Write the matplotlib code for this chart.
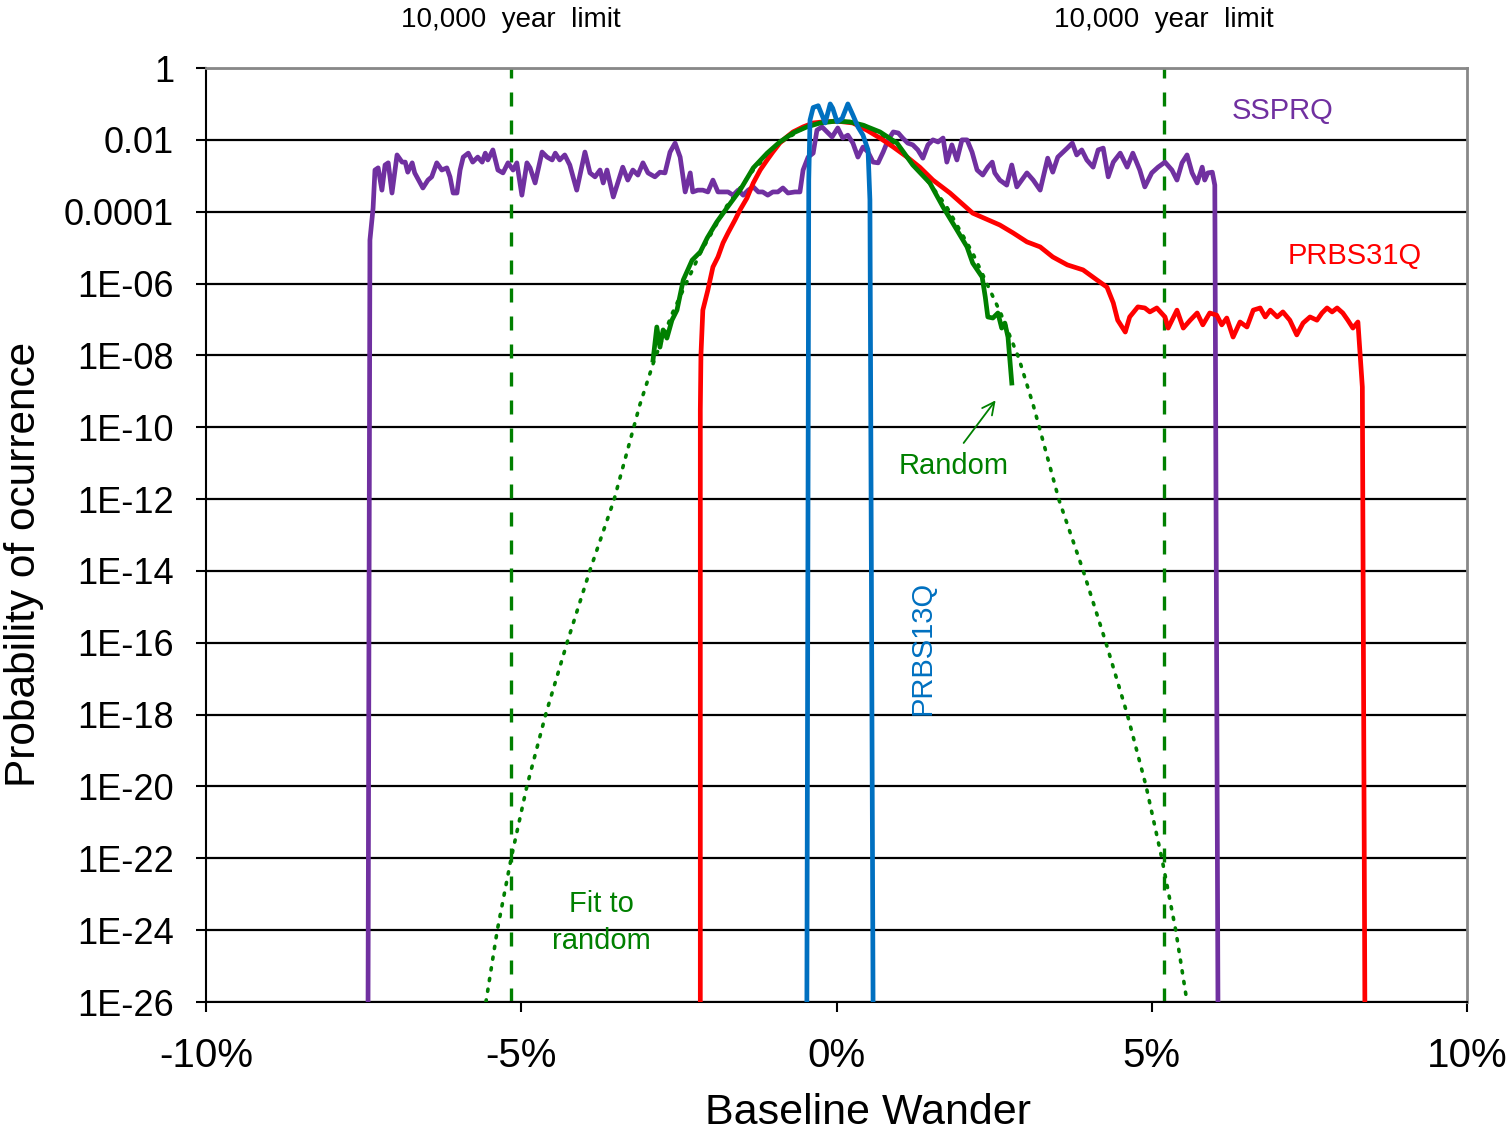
import numpy as np
import matplotlib
matplotlib.use("Agg")
import matplotlib.pyplot as plt
import matplotlib.transforms as mtransforms

plt.rcParams['font.family'] = ['Liberation Sans', 'DejaVu Sans']

# ── Data (x = baseline wander in %, y = log10 of probability) ────────────────
ssprq_x = [-7.43, -7.40, -7.35, -7.32, -7.27, -7.21, -7.16, -7.11, -7.05, -6.97,
           -6.89, -6.84, -6.80, -6.73, -6.69, -6.56, -6.48, -6.42, -6.34, -6.26,
           -6.18, -6.13, -6.08, -6.02, -5.97, -5.92, -5.84, -5.77, -5.69, -5.62,
           -5.57, -5.53, -5.45, -5.37, -5.29, -5.21, -5.13, -5.07, -4.99, -4.91,
           -4.86, -4.78, -4.67, -4.59, -4.51, -4.46, -4.39, -4.31, -4.23, -4.12,
           -3.99, -3.91, -3.83, -3.75, -3.70, -3.64, -3.54, -3.47, -3.39, -3.31,
           -3.23, -3.15, -3.07, -2.99, -2.88, -2.80, -2.72, -2.64, -2.56, -2.48,
           -2.40, -2.32, -2.28, -2.20, -2.12, -2.04, -1.96, -1.88, -1.80, -1.72,
           -1.64, -1.56, -1.48, -1.40, -1.32, -1.24, -1.17, -1.09, -1.01, -0.93,
           -0.85, -0.77, -0.66, -0.58, -0.53, -0.45, -0.37, -0.31, -0.23, -0.15,
           -0.07, 0.02, 0.10, 0.18, 0.26, 0.34, 0.42, 0.50, 0.58, 0.66,
           0.74, 0.82, 0.90, 0.98, 1.05, 1.13, 1.21, 1.29, 1.37, 1.45,
           1.53, 1.61, 1.69, 1.75, 1.83, 1.91, 1.99, 2.07, 2.15, 2.23,
           2.32, 2.40, 2.47, 2.51, 2.59, 2.70, 2.78, 2.86, 3.02, 3.12,
           3.23, 3.35, 3.43, 3.51, 3.66, 3.74, 3.81, 3.89, 3.97, 4.07,
           4.15, 4.23, 4.31, 4.39, 4.50, 4.61, 4.70, 4.81, 4.89, 5.00,
           5.10, 5.21, 5.32, 5.40, 5.48, 5.56, 5.64, 5.72, 5.80, 5.84,
           5.89, 5.96, 6.00, 6.05]
ssprq_y = [-26.0, -4.79, -3.90, -2.84, -2.78, -3.40, -2.70, -2.64, -3.48, -2.42,
           -2.62, -2.62, -2.90, -2.64, -2.92, -3.34, -3.12, -3.03, -2.64, -2.84,
           -2.78, -3.03, -3.48, -3.48, -2.84, -2.48, -2.37, -2.62, -2.48, -2.62,
           -2.37, -2.56, -2.28, -2.84, -2.92, -2.64, -2.84, -2.64, -3.54, -2.64,
           -2.78, -3.20, -2.34, -2.48, -2.56, -2.37, -2.56, -2.42, -2.70, -3.40,
           -2.34, -2.92, -3.03, -2.84, -3.20, -2.84, -3.59, -3.20, -2.76, -3.12,
           -2.84, -2.98, -2.64, -2.92, -3.03, -2.90, -2.92, -2.34, -2.09, -2.48,
           -3.45, -2.92, -3.45, -3.40, -3.40, -3.45, -3.12, -3.45, -3.45, -3.45,
           -3.54, -3.40, -3.54, -3.40, -3.31, -3.45, -3.45, -3.54, -3.45, -3.45,
           -3.34, -3.48, -3.45, -3.45, -2.84, -2.48, -2.37, -1.73, -1.64, -1.78,
           -1.92, -1.67, -1.95, -1.87, -2.09, -2.48, -2.20, -2.34, -2.62, -2.64,
           -2.34, -2.00, -1.78, -1.81, -1.95, -2.09, -2.14, -2.28, -2.51, -2.14,
           -2.00, -2.06, -1.95, -2.62, -2.14, -2.56, -2.00, -2.00, -2.34, -2.84,
           -2.98, -2.76, -2.62, -2.92, -3.12, -3.26, -2.70, -3.31, -2.92, -3.12,
           -3.40, -2.51, -2.90, -2.48, -2.23, -2.09, -2.42, -2.28, -2.56, -2.76,
           -2.28, -2.23, -3.03, -2.62, -2.37, -2.76, -2.37, -2.84, -3.31, -2.92,
           -2.76, -2.62, -2.84, -3.12, -2.64, -2.42, -2.92, -3.20, -2.76, -3.12,
           -2.92, -2.90, -3.26, -26.0]

prbs13q_x = [-0.47, -0.44, -0.42, -0.37, -0.29, -0.23, -0.18, -0.10, -0.06, 0.01,
             0.09, 0.18, 0.26, 0.34, 0.42, 0.50, 0.53, 0.58]
prbs13q_y = [-26.0, -3.12, -1.45, -1.10, -1.05, -1.31, -1.53, -1.00, -1.12, -1.50,
             -1.40, -1.00, -1.31, -1.64, -1.87, -2.28, -3.67, -26.0]

prbs31q_x = [-2.16, -2.16, -2.15, -2.12, -2.04, -1.96, -1.88, -1.80, -1.72, -1.61,
             -1.53, -1.42, -1.32, -1.21, -1.10, -1.01, -0.90, -0.79, -0.69, -0.53,
             -0.37, -0.21, 0.01, 0.26, 0.48, 0.69, 0.90, 1.12, 1.32, 1.53,
             1.80, 2.16, 2.59, 2.80, 3.02, 3.23, 3.43, 3.66, 3.91, 4.13,
             4.29, 4.39, 4.46, 4.58, 4.65, 4.78, 4.89, 4.97, 5.08, 5.21,
             5.26, 5.40, 5.50, 5.61, 5.72, 5.81, 5.92, 6.03, 6.11, 6.19,
             6.29, 6.40, 6.51, 6.61, 6.72, 6.80, 6.88, 6.99, 7.08, 7.19,
             7.30, 7.40, 7.51, 7.62, 7.70, 7.78, 7.86, 7.94, 8.03, 8.11,
             8.19, 8.27, 8.30, 8.34, 8.38]
prbs31q_y = [-26.0, -9.52, -7.99, -6.74, -6.18, -5.54, -5.26, -4.87, -4.59, -4.23,
             -3.95, -3.62, -3.20, -2.84, -2.56, -2.34, -2.09, -1.92, -1.78, -1.64,
             -1.53, -1.50, -1.48, -1.53, -1.73, -1.95, -2.20, -2.48, -2.76, -3.12,
             -3.48, -4.04, -4.37, -4.59, -4.84, -4.98, -5.26, -5.48, -5.62, -5.90,
             -6.10, -6.54, -7.02, -7.35, -6.93, -6.65, -6.68, -6.79, -6.68, -6.93,
             -7.24, -6.74, -7.24, -7.02, -6.82, -7.15, -6.82, -6.88, -7.15, -6.96,
             -7.49, -7.07, -7.21, -6.74, -6.68, -6.93, -6.74, -6.93, -6.79, -7.02,
             -7.43, -7.10, -6.93, -7.02, -6.82, -6.68, -6.79, -6.68, -6.82, -7.02,
             -7.24, -7.07, -7.85, -8.88, -26.0]

random_x = [-2.91, -2.85, -2.80, -2.75, -2.69, -2.61, -2.53, -2.43, -2.29, -2.16,
            -2.05, -1.90, -1.74, -1.53, -1.32, -1.10, -0.90, -0.69, -0.47, -0.26,
            -0.01, 0.21, 0.42, 0.69, 0.96, 1.21, 1.48, 1.69, 1.91, 2.07,
            2.16, 2.31, 2.36, 2.40, 2.48, 2.56, 2.62, 2.67, 2.72, 2.78]
random_y = [-8.13, -7.21, -7.77, -7.29, -7.52, -7.02, -6.74, -5.90, -5.35, -5.12,
            -4.73, -4.29, -3.90, -3.40, -2.78, -2.37, -2.06, -1.81, -1.64, -1.53,
            -1.48, -1.50, -1.59, -1.78, -2.09, -2.70, -3.20, -3.87, -4.51, -4.98,
            -5.43, -5.82, -6.38, -6.93, -6.96, -6.82, -7.24, -7.10, -7.49, -8.77]

fit_x = [-5.56, -5.38, -5.16, -4.91, -4.61, -4.27, -3.91, -3.53, -3.12, -2.89,
         -2.61, -2.16, -1.74, -1.32, -0.90, -0.47, 0.00, 0.47, 0.90, 1.32,
         1.74, 2.16, 2.61, 2.89, 3.12, 3.53, 3.91, 4.27, 4.61, 4.91,
         5.16, 5.38, 5.56]
fit_y = [-26.0, -24.0, -22.0, -19.99, -17.98, -15.98, -13.98, -12.03, -9.38, -8.13,
         -6.85, -5.15, -3.84, -2.84, -2.09, -1.61, -1.45, -1.61, -2.09, -2.84,
         -3.84, -5.15, -6.85, -8.07, -9.38, -12.03, -13.98, -15.98, -17.98, -19.99,
         -22.0, -24.0, -26.0]

limit_x = [-5.16, 5.19]
limit_label = "10,000  year  limit"

y_exps = [0, -2, -4, -6, -8, -10, -12, -14, -16, -18, -20, -22, -24, -26]
y_labels = ["1", "0.01", "0.0001", "1E-06", "1E-08", "1E-10", "1E-12", "1E-14",
            "1E-16", "1E-18", "1E-20", "1E-22", "1E-24", "1E-26"]
x_ticks = [-10, -5, 0, 5, 10]
x_labels = ["-10%", "-5%", "0%", "5%", "10%"]

PURPLE = "#7030A0"
RED = "#FF0000"
BLUE = "#0070C0"
GREEN = "#008000"
LW = 3.4


def pw(vals):
    return [10.0 ** v for v in vals]


fig = plt.figure(figsize=(15.12, 11.31), dpi=100)
ax = fig.add_axes([206 / 1512, 1 - 1002 / 1131, (1467 - 206) / 1512, (1002 - 68) / 1131])
ax.set_yscale("log")
ax.set_xlim(-10, 10)
ax.set_ylim(1e-26, 1)

# gridlines
for e in y_exps:
    ax.axhline(10.0 ** e, color="black", lw=1.6, zorder=1)

# 10,000 year limits
trans = mtransforms.blended_transform_factory(ax.transData, ax.transAxes)
for lx in limit_x:
    ax.axvline(lx, color=GREEN, lw=2.4, dashes=(4.2, 4.2), zorder=2)
    ax.text(lx, 1.051, limit_label, transform=trans,
            ha="center", va="center", fontsize=20, color="black")

ax.plot(fit_x, pw(fit_y), color=GREEN, lw=2.6, linestyle=(0, (0.6, 2.4)),
        dash_capstyle="round", zorder=3)
ax.plot(ssprq_x, pw(ssprq_y), color=PURPLE, lw=LW, zorder=4, solid_joinstyle="round")
ax.plot(prbs31q_x, pw(prbs31q_y), color=RED, lw=LW, zorder=4, solid_joinstyle="round")
ax.plot(random_x, pw(random_y), color=GREEN, lw=LW, zorder=5, solid_joinstyle="round")
ax.plot(prbs13q_x, pw(prbs13q_y), color=BLUE, lw=LW, zorder=6, solid_joinstyle="round")

# labels on the chart
ax.text(7.08, 10 ** -1.20, "SSPRQ", color=PURPLE, fontsize=21, ha="center", va="center")
ax.text(8.22, 10 ** -5.23, "PRBS31Q", color=RED, fontsize=21, ha="center", va="center")
ax.text(1.85, 10 ** -11.08, "Random", color=GREEN, fontsize=21, ha="center", va="center")
ax.annotate("", xy=(2.55, 10 ** -9.19), xytext=(1.99, 10 ** -10.5),
            arrowprops=dict(arrowstyle="->", color=GREEN, lw=1.3, mutation_scale=22))
ax.text(1.36, 10 ** -16.15, "PRBS13Q", color=BLUE, fontsize=21, ha="center", va="center",
        rotation=90)
ax.text(-3.73, 10 ** -23.78, "Fit to\nrandom", color=GREEN, fontsize=21, ha="center",
        va="center", linespacing=1.4)

# axes styling
ax.set_yticks(pw(y_exps))
ax.set_yticklabels(y_labels, fontsize=26)
ax.yaxis.set_minor_locator(matplotlib.ticker.NullLocator())
ax.set_xticks(x_ticks)
ax.set_xticklabels(x_labels, fontsize=29)
ax.tick_params(axis="y", direction="out", length=7, width=1.5, pad=16)
ax.tick_params(axis="x", direction="out", length=7, width=1.5, pad=18)
ax.spines["left"].set_linewidth(1.5)
ax.spines["bottom"].set_linewidth(1.5)
ax.spines["top"].set_color("#888888")
ax.spines["right"].set_color("#888888")
ax.spines["top"].set_linewidth(2)
ax.spines["right"].set_linewidth(2)

ax.set_xlabel("Baseline Wander", fontsize=31, va="center")
ax.xaxis.set_label_coords(0.525, -0.1188)
ax.set_ylabel("Probability of ocurrence", fontsize=30.5, va="center")
ax.yaxis.set_label_coords(-0.1443, 0.468)

fig.savefig("out.png", dpi=100)
